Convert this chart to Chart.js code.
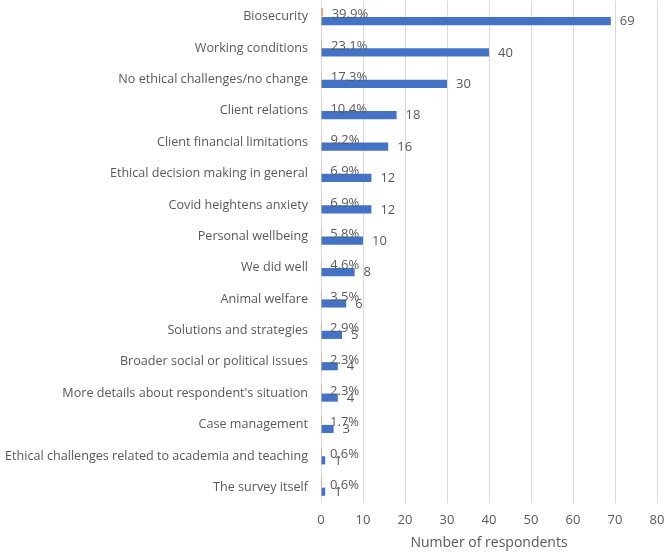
<!DOCTYPE html>
<html>
<head>
<meta charset="utf-8">
<script src="https://cdn.jsdelivr.net/npm/chart.js@4"></script>
<style>
html,body{margin:0;padding:0;background:#fff;}
#wrap{width:669px;height:554px;position:relative;}
</style>
</head>
<body>
<div id="wrap"><canvas id="c" width="669" height="554"></canvas></div>
<script>
const categories = [
  "Biosecurity",
  "Working conditions",
  "No ethical challenges/no change",
  "Client relations",
  "Client financial limitations",
  "Ethical decision making in general",
  "Covid heightens anxiety",
  "Personal wellbeing",
  "We did well",
  "Animal welfare",
  "Solutions and strategies",
  "Broader social or political issues",
  "More details about respondent's situation",
  "Case management",
  "Ethical challenges related to academia and teaching",
  "The survey itself"
];
const shareOfRespondents = [0.399, 0.231, 0.173, 0.104, 0.092, 0.069, 0.069, 0.058, 0.046, 0.035, 0.029, 0.023, 0.023, 0.017, 0.006, 0.006];
const numberOfRespondents = [69, 40, 30, 18, 16, 12, 12, 10, 8, 6, 5, 4, 4, 3, 1, 1];
const xTicks = [0, 10, 20, 30, 40, 50, 60, 70, 80];

const FONT = "'Open Sans', sans-serif";
const TEXT = '#595959';

const labelPlugin = {
  id: 'barLabels',
  afterDatasetsDraw(chart) {
    const ctx = chart.ctx;
    ctx.save();
    ctx.fillStyle = TEXT;
    ctx.font = "13px " + FONT;
    ctx.textAlign = 'left';
    ctx.textBaseline = 'middle';
    chart.data.datasets.forEach((ds, di) => {
      const meta = chart.getDatasetMeta(di);
      meta.data.forEach((el, i) => {
        const v = ds.data[i];
        let txt, dy;
        if (di === 0) { txt = (v * 100).toFixed(1) + '%'; dy = 2.5; }
        else { txt = String(v); dy = 0.5; }
        ctx.fillText(txt, el.x + 9, el.y + dy);
      });
    });
    ctx.restore();
  }
};

new Chart(document.getElementById('c'), {
  type: 'bar',
  data: {
    labels: categories,
    datasets: [
      {
        label: 'Share',
        data: shareOfRespondents,
        backgroundColor: '#ED7D31',
        borderWidth: 0,
        categoryPercentage: 0.56,
        barPercentage: 0.93
      },
      {
        label: 'Number of respondents',
        data: numberOfRespondents,
        backgroundColor: '#4472C4',
        borderWidth: 0,
        categoryPercentage: 0.56,
        barPercentage: 0.93
      }
    ]
  },
  options: {
    indexAxis: 'y',
    responsive: false,
    animation: false,
    devicePixelRatio: 1,
    layout: { padding: { top: 1, right: 12, left: 0, bottom: 0 } },
    plugins: { legend: { display: false }, tooltip: { enabled: false } },
    scales: {
      x: {
        min: 0,
        max: 80,
        afterBuildTicks(scale) { scale.ticks = xTicks.map(v => ({ value: v })); },
        grid: { color: '#d9d9d9', drawTicks: false, lineWidth: 1 },
        border: { display: false },
        ticks: { color: TEXT, font: { family: FONT, size: 13 }, padding: 9 },
        title: { display: true, text: 'Number of respondents', color: TEXT, font: { family: FONT, size: 14 }, padding: { top: 4, bottom: 3 } },
        afterFit(scale) { scale.height = 51; scale.paddingLeft = 0; scale.paddingRight = 0; }
      },
      y: {
        grid: { display: false, drawTicks: false },
        border: { display: false },
        ticks: { color: TEXT, font: { family: FONT, size: 12.6 }, padding: 13, autoSkip: false },
        afterFit(scale) { scale.width = 321; scale.paddingTop = 0; scale.paddingBottom = 0; }
      }
    }
  },
  plugins: [labelPlugin]
});
</script>
</body>
</html>
